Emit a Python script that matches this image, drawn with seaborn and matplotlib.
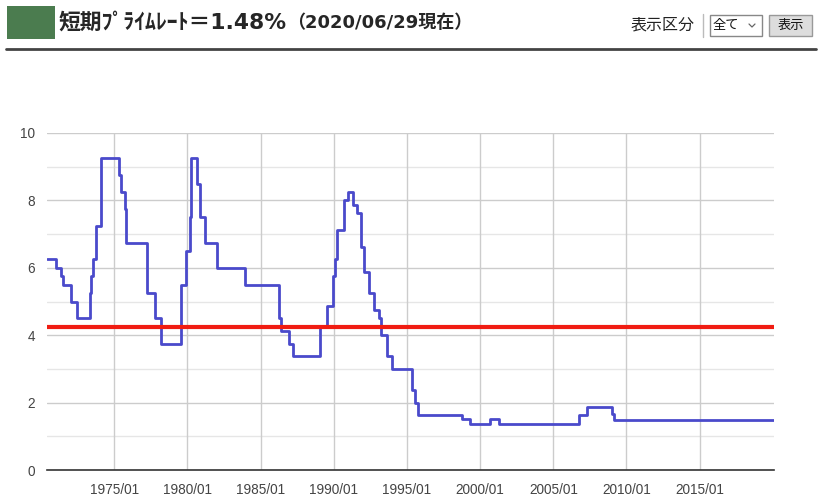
import numpy as np
import pandas as pd
import matplotlib
matplotlib.use("Agg")
import matplotlib.pyplot as plt
from matplotlib.patches import Rectangle
from matplotlib.lines import Line2D
from matplotlib.ticker import MultipleLocator, FixedLocator, FuncFormatter
import seaborn as sns

# change points of the short-term prime rate (decimal year, rate %)
dates = [1970.42, 1971.02, 1971.36, 1971.50, 1972.04, 1972.45, 1973.31, 1973.41,
         1973.51, 1973.72, 1974.10, 1975.29, 1975.49, 1975.70, 1975.83, 1977.23,
         1977.75, 1978.22, 1979.59, 1979.90, 1980.14, 1980.24, 1980.65, 1980.85,
         1981.20, 1982.01, 1983.94, 1986.22, 1986.42, 1986.93, 1987.24, 1989.08,
         1989.53, 1989.94, 1990.11, 1990.25, 1990.69, 1990.96, 1991.34, 1991.61,
         1991.89, 1992.09, 1992.40, 1992.77, 1993.11, 1993.22, 1993.66, 1994.00,
         1995.37, 1995.57, 1995.78, 1998.78, 1999.33, 2000.70, 2001.31, 2006.78,
         2007.32, 2009.00, 2009.17, 2020.07]
rates = [6.25, 6.0, 5.75, 5.5, 5.0, 4.5, 5.25, 5.75,
         6.25, 7.25, 9.25, 8.75, 8.25, 7.75, 6.75, 5.25,
         4.5, 3.75, 5.5, 6.5, 7.5, 9.25, 8.5, 7.5,
         6.75, 6.0, 5.5, 4.5, 4.125, 3.75, 3.375, 4.25,
         4.875, 5.75, 6.25, 7.125, 8.0, 8.25, 7.875, 7.625,
         6.625, 5.875, 5.25, 4.75, 4.5, 4.0, 3.375, 3.0,
         2.375, 2.0, 1.625, 1.5, 1.375, 1.5, 1.375, 1.625,
         1.875, 1.675, 1.475, 1.475]
average_rate = 4.25
tick_years = [1975, 1980, 1985, 1990, 1995, 2000, 2005, 2010, 2015]

title_main = "短期ﾌﾟﾗｲﾑﾚｰﾄ＝1.48%"
title_sub = "（2020/06/29現在）"

df = pd.DataFrame({"year": dates, "rate": rates})

W, H = 826, 504
sns.set_style("white")
plt.rcParams["font.family"] = ["Liberation Sans", "Noto Sans CJK JP", "DejaVu Sans"]

fig = plt.figure(figsize=(W / 100, H / 100), dpi=100)


def fx(x):
    return x / W


def fy(y):
    return 1 - y / H


ax = fig.add_axes([fx(47.3), fy(470), fx(774) - fx(47.3), fy(133) - fy(470)])

# grid
for v in range(0, 11):
    ax.axhline(v, color="#cccccc" if v % 2 == 0 else "#e6e6e6", lw=1, zorder=0)
for yr in tick_years:
    ax.axvline(yr, color="#cccccc", lw=1, zorder=0)

sns.lineplot(data=df, x="year", y="rate", drawstyle="steps-post",
             color="#4a4acb", lw=2, ax=ax, zorder=3)
ax.axhline(average_rate, color="#f01c12", lw=3, zorder=4)

ax.set_xlim(1970.42, 2020.08)
ax.set_ylim(0, 10)
ax.set_xlabel("")
ax.set_ylabel("")
ax.xaxis.set_major_locator(FixedLocator(tick_years))
ax.xaxis.set_minor_locator(MultipleLocator(1))
ax.xaxis.set_major_formatter(FuncFormatter(lambda v, p: f"{int(round(v))}/01"))
ax.yaxis.set_major_locator(MultipleLocator(2))
ax.tick_params(axis="x", which="major", length=0, pad=9, labelsize=9.8, labelcolor="#444444")
ax.tick_params(axis="x", which="minor", direction="in", length=4, width=1, color="#c4c4c4")
ax.tick_params(axis="y", length=0, pad=9, labelsize=9.8, labelcolor="#444444")
for s in ["left", "right", "top"]:
    ax.spines[s].set_visible(False)
ax.spines["bottom"].set_color("#333333")
ax.spines["bottom"].set_linewidth(1.2)
ax.spines["bottom"].set_zorder(5)

# header
fig.add_artist(Rectangle((fx(7), fy(39)), fx(55) - fx(7), fy(6) - fy(39),
                         facecolor="#4b7c4f", edgecolor="none"))
fig.text(fx(59), fy(22), title_main, fontsize=15.7, fontweight="bold",
         va="center", ha="left", family=["DejaVu Sans", "Noto Sans CJK JP"])
fig.text(fx(287), fy(22.5), title_sub, fontsize=13, fontweight="bold",
         va="center", ha="left", family=["DejaVu Sans", "Noto Sans CJK JP"])
fig.add_artist(Line2D([fx(6), fx(816)], [fy(48.8), fy(48.8)], color="#444444", lw=2))

fig.text(fx(631), fy(24.5), "表示区分", fontsize=11.5, va="center", ha="left",
         family=["Noto Sans CJK JP"], color="#222222")
fig.add_artist(Line2D([fx(702.7), fx(702.7)], [fy(14), fy(37)], color="#bbbbbb", lw=1))
fig.add_artist(Rectangle((fx(710), fy(36)), fx(762) - fx(710), fy(15) - fy(36),
                         facecolor="white", edgecolor="#888888", lw=1))
fig.text(fx(713), fy(25.5), "全て", fontsize=9.5, va="center", ha="left",
         family=["Noto Sans CJK JP"], color="#111111")
fig.add_artist(Line2D([fx(749), fx(752), fx(755)], [fy(24), fy(27), fy(24)],
                      color="#666666", lw=0.9))
fig.add_artist(Rectangle((fx(769), fy(36.3)), fx(812) - fx(769), fy(15) - fy(36.3),
                         facecolor="#dddddd", edgecolor="#999999", lw=1))
fig.text(fx(790.5), fy(25.5), "表示", fontsize=9.5, va="center", ha="center",
         family=["Noto Sans CJK JP"], color="#111111")

fig.savefig("out.png", dpi=100)
